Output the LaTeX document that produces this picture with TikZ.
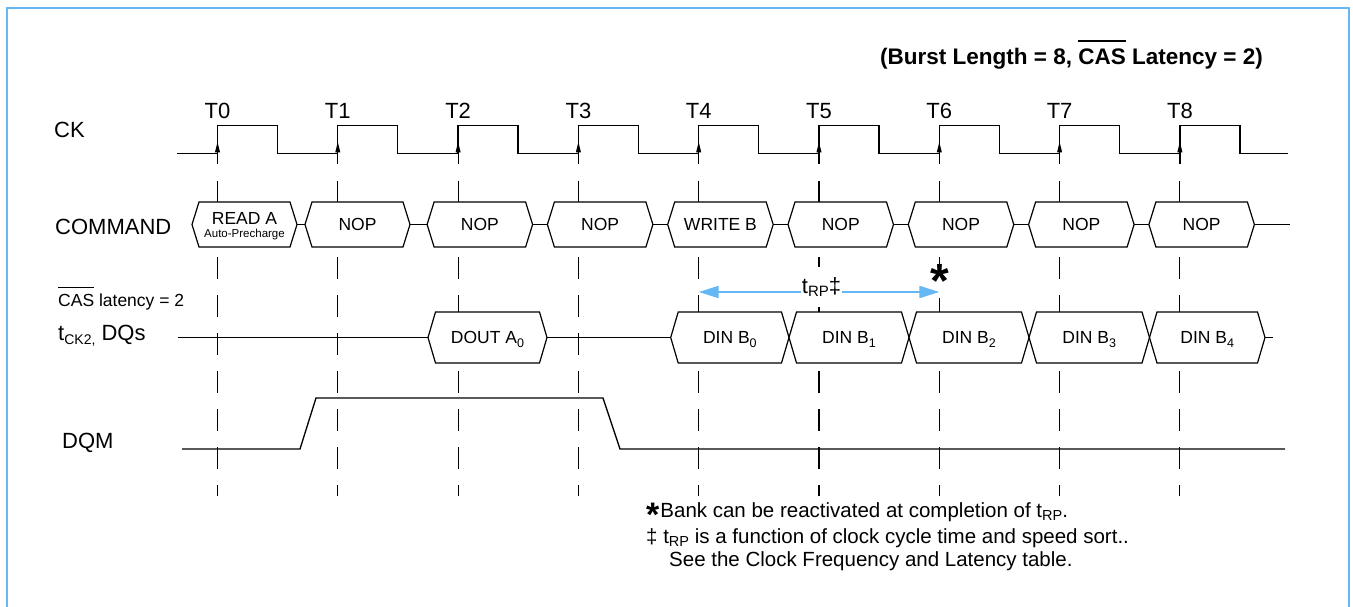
\documentclass[tikz,border=0pt]{standalone}
\usepackage{fontspec}
\setmainfont{Liberation Sans}
\usetikzlibrary{arrows.meta}
\definecolor{frameblue}{RGB}{102,184,245}
\newcommand\ovl[3]{\setbox0\hbox{#3}\rlap{\rule[#1]{\wd0}{#2}}\box0\relax}
\newcommand\lsub[3]{\raisebox{-#2pt}{\fontsize{#1}{#1}\selectfont #3}}
\begin{document}
\begin{tikzpicture}[x=1pt,y=-1pt,
  wave/.style={line width=1.3pt, line join=miter},
  bus/.style={line width=1.2pt, fill=white, line join=miter},
  tick/.style={line width=1.1pt, dash pattern=on 22pt off 16pt},
  lbl/.style={anchor=base west, inner sep=0pt, font=\fontsize{22}{26}\selectfont},
  boxtxt/.style={anchor=base, inner sep=0pt, font=\fontsize{17.5}{20}\selectfont},
  tlab/.style={anchor=base, inner sep=0pt, font=\fontsize{22}{26}\selectfont},
  note/.style={anchor=base west, inner sep=0pt, font=\fontsize{20.5}{24}\selectfont},
  rparrow/.style={frameblue, line width=2pt, {Triangle[length=20pt,width=12pt]}-{Triangle[length=20pt,width=12pt]}},
]
\useasboundingbox (0,0) rectangle (1353,607);
\begin{scope}
  \clip (0,0) rectangle (1353,607);
  \draw[frameblue, line width=2.5pt] (7,8) rectangle (1349,650);
\end{scope}

% clock edges, labels, timing markers
\foreach \k in {0,...,8}{
  \pgfmathsetmacro\tx{217.5+120.3*\k}
  \coordinate (T\k) at (\tx,153.7);
  \node[tlab] (TL\k) at (\tx,118.3) {T\k};
  \draw[line width=1.2pt] (\tx,153.7) -- (\tx,164.3);
  \draw[tick] (\tx,181) -- (\tx,496);
  \fill (\tx,142) -- (\tx-2.6,152.5) -- (\tx+2.6,152.5) -- cycle;
}

% clock waveform
\draw[wave] (177,153.7) \foreach \k in {0,...,8}{ -- ({217.5+120.3*\k},153.7) -- ++(0,-28.4) -- ++(60,0) -- ++(0,28.4)} -- (1288,153.7);

% command boxes
\newcommand\cmdbox[4]{%
  \draw[bus] (#2,224.5) -- (#2+7,202) -- (#3-7,202) -- (#3,224.5) -- (#3-7,247) -- (#2+7,247) -- cycle;
  \coordinate (#1l) at (#2,224.5);
  \coordinate (#1r) at (#3,224.5);
  \node[boxtxt] (#1t) at ({(#2+#3)/2},230.8) {#4};}
\cmdbox{c0}{192}{297}{}
\node[boxtxt] (c0a) at (244.5,224.3) {READ A};
\node[boxtxt, font=\fontsize{11.5}{12}\selectfont] (c0b) at (244.5,237.2) {Auto-Precharge};
\cmdbox{c1}{305}{410}{NOP}
\cmdbox{c2}{427.1}{532.6}{NOP}
\cmdbox{c3}{547.4}{652.9}{NOP}
\cmdbox{c4}{667.7}{773.2}{WRITE B}
\cmdbox{c5}{788}{893.5}{NOP}
\cmdbox{c6}{908.3}{1013.8}{NOP}
\cmdbox{c7}{1028.6}{1134.1}{NOP}
\cmdbox{c8}{1148.9}{1254.4}{NOP}
\coordinate (cend) at (1290,224.5);
\foreach \a/\b in {c0/c1,c1/c2,c2/c3,c3/c4,c4/c5,c5/c6,c6/c7,c7/c8}
  \draw[line width=1.2pt] (\a r) -- (\b l);
\draw[line width=1.2pt] (c8r) -- (cend);

% DQ boxes
\newcommand\dqbox[4]{%
  \draw[bus] (#2,337.5) -- (#2+7.5,312) -- (#3-7.5,312) -- (#3,337.5) -- (#3-7.5,363) -- (#2+7.5,363) -- cycle;
  \coordinate (#1l) at (#2,337.5);
  \coordinate (#1r) at (#3,337.5);
  \node[boxtxt] (#1t) at ({(#2+#3)/2},343.8) {#4};}
\coordinate (dqstart) at (178,337.5);
\coordinate (dqend) at (1273,337.5);
\dqbox{d0}{428}{547}{DOUT A\lsub{12.5}{3.5}{0}}
\dqbox{b0}{670.7}{789}{DIN B\lsub{12.5}{3.5}{0}}
\dqbox{b1}{789}{909}{DIN B\lsub{12.5}{3.5}{1}}
\dqbox{b2}{909}{1029}{DIN B\lsub{12.5}{3.5}{2}}
\dqbox{b3}{1029}{1149.5}{DIN B\lsub{12.5}{3.5}{3}}
\dqbox{b4}{1149.5}{1265}{DIN B\lsub{12.5}{3.5}{4}}
\draw[line width=1.2pt] (dqstart) -- (d0l);
\draw[line width=1.2pt] (d0r) -- (b0l);
\draw[line width=1.2pt] (b4r) -- (dqend);

% DQM
\draw[wave] (182,449) -- (300,449) -- (316,398) -- (603,398) -- (620,449) -- (1285,449);

% tRP
\node[anchor=base, inner sep=0pt, fill=white, font=\fontsize{48}{48}\selectfont\bfseries] (star) at (940,297.7) {*};
\coordinate (rpa) at (698.7,292);
\coordinate (rpb) at (939.3,292);
\draw[rparrow] (rpa) -- (rpb);
\node[fill=white, inner xsep=1pt, inner ysep=0pt, minimum height=40pt, font=\fontsize{22}{26}\selectfont] (trp) at (821.5,287) {t\lsub{15}{3}{RP}‡};

% row labels
\node[lbl] (ck) at (54,138) {CK};
\node[lbl] (cmd) at (55,234) {COMMAND};
\node[lbl, font=\fontsize{17.5}{20}\selectfont] (cas) at (58,306) {\ovl{18pt}{1.3pt}{CAS} latency = 2};
\node[lbl] (dqs) at (58,340) {t\lsub{14}{4}{CK2,} DQs};
\node[lbl] (dqm) at (62,448) {DQM};

% header
\node[anchor=base east, inner sep=0pt, font=\fontsize{22.5}{26}\selectfont\bfseries] (hdr) at (1263,65) {(Burst Length = 8, \ovl{23pt}{1.8pt}{CAS} Latency = 2)};

% notes
\node[note] (n1) at (646,517) {\raisebox{-9pt}{\fontsize{34}{34}\selectfont\bfseries *}\hspace{1pt}Bank can be reactivated at completion of t\lsub{14.5}{3.5}{RP}.};
\node[note] (n2) at (646,543) {‡ t\lsub{14.5}{3.5}{RP} is a function of clock cycle time and speed sort..};
\node[note] (n3) at (669,566) {See the Clock Frequency and Latency table.};
\end{tikzpicture}
\end{document}
